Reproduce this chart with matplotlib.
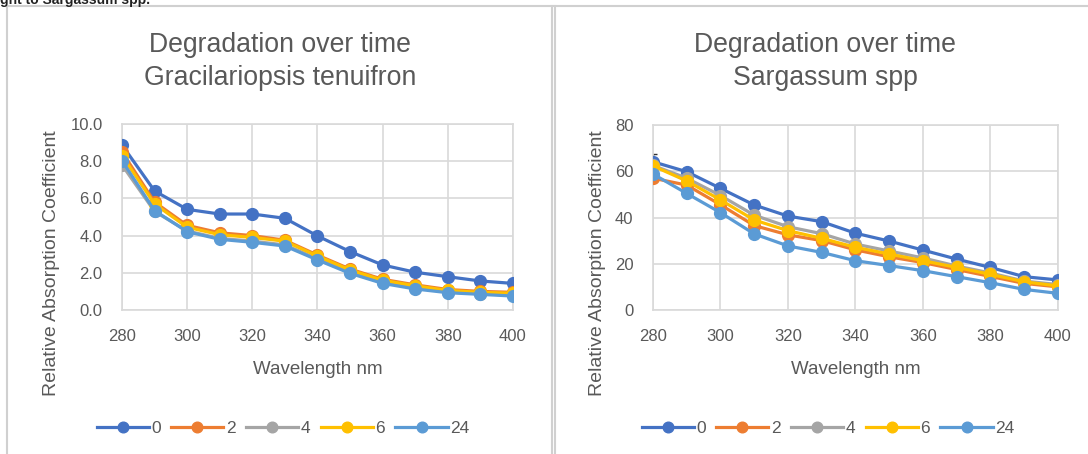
import matplotlib
matplotlib.use("Agg")
import matplotlib.pyplot as plt
from matplotlib.lines import Line2D

plt.rcParams['font.family'] = ['Liberation Sans', 'DejaVu Sans']

wavelength = [280, 290, 300, 310, 320, 330, 340, 350, 360, 370, 380, 390, 400]
series_names = ["0", "2", "4", "6", "24"]
colors = ["#4472C4", "#ED7D31", "#A5A5A5", "#FFC000", "#5B9BD5"]

# Gracilariopsis tenuifron
grac_0 = [8.87, 6.40, 5.41, 5.16, 5.16, 4.93, 3.98, 3.14, 2.42, 2.03, 1.79, 1.56, 1.43]
grac_2 = [8.50, 5.80, 4.55, 4.15, 4.00, 3.75, 2.95, 2.20, 1.65, 1.35, 1.10, 1.00, 0.95]
grac_4 = [7.80, 5.30, 4.25, 3.85, 3.70, 3.50, 2.75, 2.02, 1.48, 1.18, 0.97, 0.87, 0.80]
grac_6 = [8.30, 5.70, 4.45, 4.05, 3.90, 3.70, 2.90, 2.15, 1.60, 1.30, 1.05, 0.95, 0.90]
grac_24 = [8.03, 5.34, 4.21, 3.80, 3.64, 3.44, 2.69, 1.97, 1.43, 1.13, 0.93, 0.84, 0.75]

# Sargassum spp
sarg_0 = [64.1, 59.8, 52.6, 45.4, 40.6, 38.2, 33.2, 29.8, 25.9, 22.0, 18.4, 14.4, 13.0]
sarg_2 = [57.0, 54.0, 45.5, 36.5, 32.5, 30.0, 26.0, 23.0, 20.5, 17.5, 14.5, 11.5, 10.0]
sarg_4 = [62.5, 57.0, 49.5, 41.0, 36.0, 33.0, 28.5, 25.5, 22.5, 19.0, 16.0, 12.5, 11.0]
sarg_6 = [62.3, 55.8, 47.6, 38.9, 34.3, 31.0, 27.1, 24.2, 21.3, 18.4, 15.4, 12.2, 10.4]
sarg_24 = [58.8, 50.4, 42.1, 32.9, 27.7, 24.9, 21.3, 19.2, 17.0, 14.4, 11.8, 8.9, 7.2]
sarg_0_err = [3.5, 1.5, 1.0, 1.0, 1.0, 1.0, 1.0, 1.0, 1.0, 1.0, 1.0, 1.0, 1.0]

grac = [grac_0, grac_2, grac_4, grac_6, grac_24]
sarg = [sarg_0, sarg_2, sarg_4, sarg_6, sarg_24]

W, H = 1088, 454
fig = plt.figure(figsize=(W / 100, H / 100), dpi=100)

text_col = "#595959"
grid_col = "#D9D9D9"

def fx(px):
    return px / W

def fy(py):
    return 1 - py / H

# panel borders
border = "#D0D0D0"
fig.add_artist(Line2D([fx(7), fx(7)], [0, fy(6)], color=border, lw=1.5))
fig.add_artist(Line2D([fx(7), 1], [fy(6), fy(6)], color=border, lw=1.5))
fig.add_artist(Line2D([fx(552), fx(552)], [0, fy(6)], color=border, lw=1.5))
fig.add_artist(Line2D([fx(555), fx(555)], [0, fy(6)], color=border, lw=1.5))

fig.text(0.0, 1.0, "ght to Sargassum spp.", fontsize=10, fontweight='bold',
         color="#222222", ha='left', va='center')

def make(px_box, data, ymax, ystep, fmt, ylab_x, err=None):
    x0, y0, x1, y1 = px_box  # pixel coords: left, top, right, bottom
    ax = fig.add_axes([fx(x0), fy(y1), fx(x1) - fx(x0), fy(y0) - fy(y1)])
    for i, (name, vals, c) in enumerate(zip(series_names, data, colors)):
        ax.plot(wavelength, vals, color=c, lw=2.3, marker='o', ms=8.5,
                label=name, zorder=3 + i)
        if err is not None and i == 0:
            ax.errorbar(wavelength, vals, yerr=err, fmt='none', ecolor='#333333',
                        elinewidth=1, capsize=3, zorder=2)
    ax.set_xlim(280, 400)
    ax.set_ylim(0, ymax)
    ax.set_xticks(range(280, 401, 20))
    n = int(round(ymax / ystep)) + 1
    ax.set_yticks([ystep * k for k in range(n)])
    ax.set_yticklabels([fmt.format(ystep * k) for k in range(n)])
    ax.grid(True, color=grid_col, lw=1.2)
    ax.set_axisbelow(True)
    for s in ax.spines.values():
        s.set_color(grid_col)
        s.set_linewidth(1.2)
    ax.tick_params(axis='y', length=0, labelsize=12, colors=text_col, pad=14)
    ax.tick_params(axis='x', length=0, labelsize=12, colors=text_col, pad=14)
    ax.set_xlabel("Wavelength nm", fontsize=13.5, color=text_col, labelpad=12)
    ax.set_ylabel("Relative Absorption Coefficient", fontsize=14, color=text_col)
    ax.yaxis.set_label_coords((ylab_x - x0) / (x1 - x0), (y1 - 263) / (y1 - y0))
    ax.yaxis.label.set_va('center')
    return ax

ax1 = make((122, 124, 513, 310), grac, 10, 2, "{:.1f}", 52)
ax2 = make((653, 125, 1058, 310), sarg, 80, 20, "{:.0f}", 597, err=sarg_0_err)

for cx, t2 in [(280, "Gracilariopsis tenuifron"), (825, "Sargassum spp")]:
    fig.text(fx(cx), fy(45), "Degradation over time", fontsize=19.2, color=text_col,
             ha='center', va='center')
    fig.text(fx(cx), fy(78), t2, fontsize=19.2, color=text_col,
             ha='center', va='center')

for ax, cx in [(ax1, 283), (ax2, 828)]:
    h, l = ax.get_legend_handles_labels()
    fig.legend(h, l, loc='center', bbox_to_anchor=(fx(cx), fy(428)), ncol=5,
               frameon=False, fontsize=12.5, labelcolor=text_col, handlelength=3.0,
               handletextpad=0.15, columnspacing=0.6, markerscale=0.9)

fig.savefig("out.png", dpi=100)
